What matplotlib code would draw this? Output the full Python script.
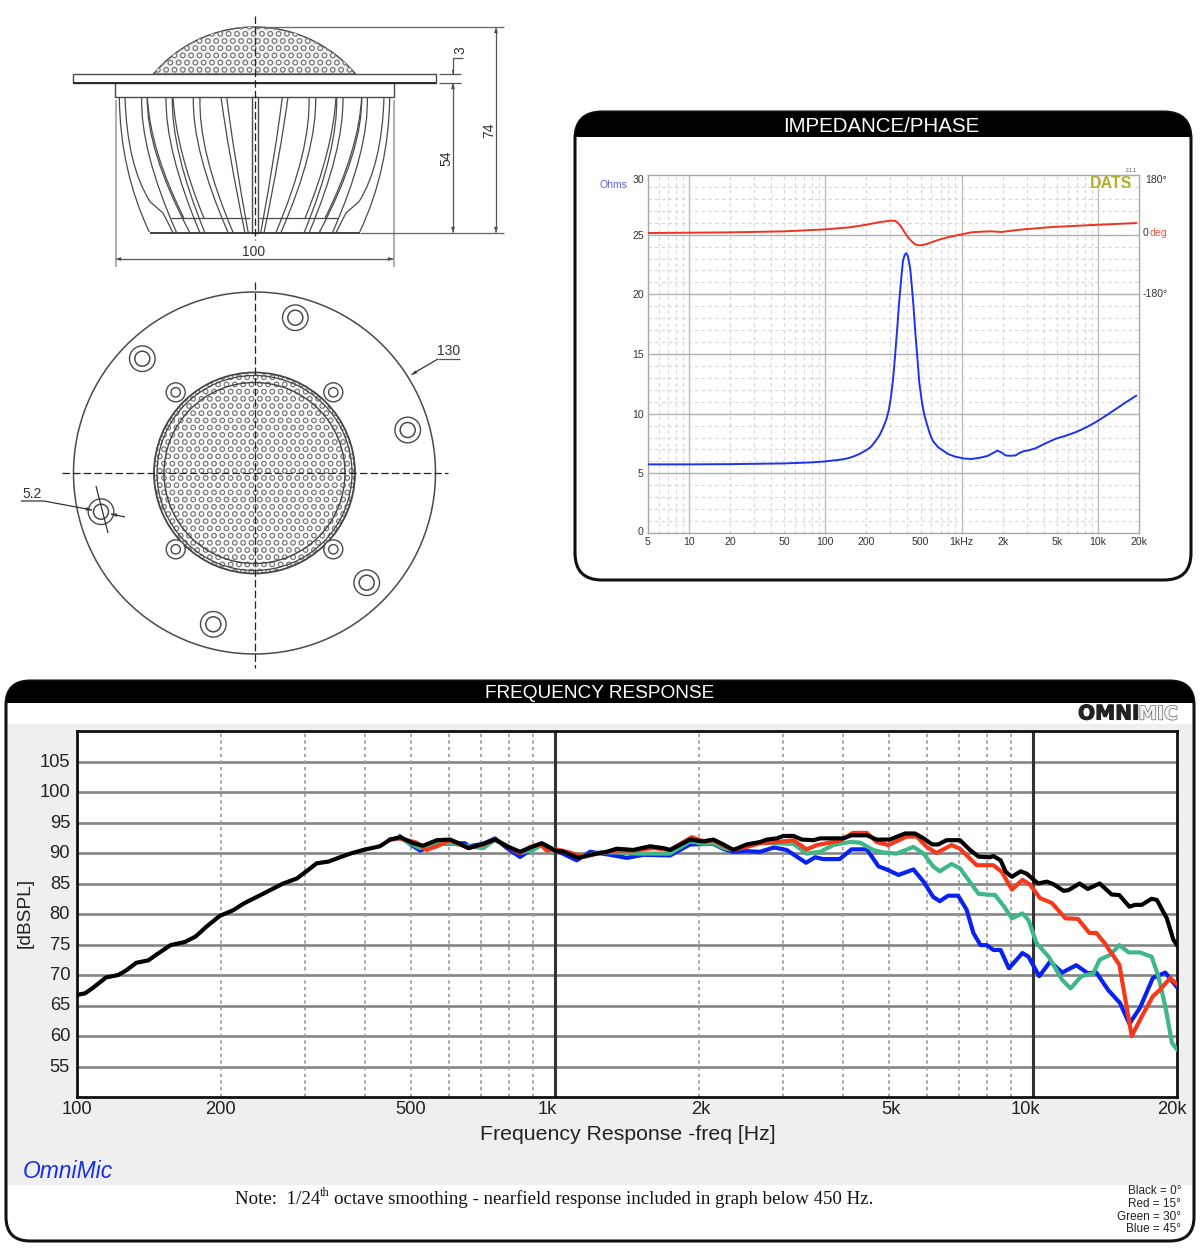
import numpy as np
import matplotlib
matplotlib.use("Agg")
import matplotlib.pyplot as plt
from matplotlib.patches import FancyBboxPatch, Rectangle, Circle, PathPatch, Polygon
from matplotlib.path import Path
from matplotlib.collections import PatchCollection
from matplotlib.ticker import NullLocator
from matplotlib.transforms import ScaledTranslation
import matplotlib.patheffects as pe

plt.rcParams['font.family'] = ['Liberation Sans', 'DejaVu Sans']

# ---------------- frequency response data ----------------
fr_ticks = [100, 200, 500, 1000, 2000, 5000, 10000, 20000]
fr_tick_labels = ['100', '200', '500', '1k', '2k', '5k', '10k', '20k']
fr_db_ticks = [55, 60, 65, 70, 75, 80, 85, 90, 95, 100, 105]
fr_dashed = [200, 300, 400, 500, 600, 700, 800, 900, 2000, 3000, 4000, 5000, 6000, 7000, 8000, 9000]

black_f = [100, 101, 104, 108, 115, 122, 127, 133, 141, 147, 157, 168, 177, 187, 199, 212, 223, 242, 270, 288,
           302, 317, 336, 355, 373, 397, 430, 452, 474, 505, 530, 566, 603, 633, 659, 708, 749, 793, 845, 901,
           938, 1000, 1041, 1119, 1184, 1283, 1346, 1458, 1580, 1685, 1740, 1916, 2043, 2144, 2250, 2360, 2518,
           2685, 2772, 2910, 3005, 3152, 3283, 3470, 3587, 4010, 4170, 4490, 4708, 5010, 5400, 5660, 5900, 6150,
           6330, 6590, 7030, 7380, 7690, 8120, 8260, 8550, 8770, 9030, 9420, 9700, 10240, 10680, 11020, 11580,
           11850, 12510, 13010, 13780, 14600, 15150, 15900, 16350, 16880, 17700, 18150, 19040, 19650, 20000]
black_db = [66.7, 66.8, 67.0, 67.9, 69.6, 70.0, 70.8, 72.0, 72.4, 73.4, 74.9, 75.4, 76.3, 78.0, 79.7, 80.6, 81.7,
            83.1, 85.0, 85.8, 87.0, 88.3, 88.6, 89.3, 89.9, 90.5, 91.1, 92.2, 92.6, 91.6, 91.2, 92.1, 92.2, 91.5,
            90.8, 91.5, 92.2, 91.1, 90.2, 91.1, 91.6, 90.4, 90.2, 89.2, 89.7, 90.2, 90.7, 90.5, 91.1, 90.8, 90.5,
            92.2, 91.9, 92.2, 91.4, 90.5, 91.4, 91.8, 92.2, 92.4, 92.8, 92.8, 92.2, 92.1, 92.4, 92.4, 92.9, 92.9,
            92.2, 92.2, 93.2, 93.2, 92.4, 91.4, 91.4, 92.1, 92.1, 90.5, 89.4, 89.3, 89.5, 88.8, 86.9, 86.1, 87.0,
            86.6, 85.0, 85.3, 84.9, 83.8, 83.9, 85.0, 84.1, 85.0, 83.2, 83.1, 81.2, 81.5, 81.5, 82.5, 82.3, 79.3,
            75.8, 74.9]

red_f = [452, 474, 513, 538, 566, 603, 659, 708, 749, 793, 845, 887, 931, 961, 1000, 1058, 1146, 1242, 1346, 1458,
         1606, 1740, 1932, 2043, 2144, 2250, 2360, 2518, 2685, 2910, 3152, 3360, 3530, 3940, 4200, 4490, 4708,
         4980, 5440, 5710, 5990, 6280, 6750, 7030, 7620, 8260, 8600, 9030, 9500, 9860, 10340, 10950, 11680, 12410,
         13110, 13560, 14120, 15150, 16080, 16880, 17800, 18440, 19350, 20000]
red_db = [92.2, 92.4, 91.7, 90.5, 91.1, 92.1, 90.8, 91.4, 92.2, 91.1, 90.0, 91.0, 91.4, 90.4, 90.65, 90.2, 89.35,
          90.0, 90.4, 90.4, 90.8, 90.5, 92.6, 91.9, 92.1, 91.2, 90.5, 91.0, 91.6, 91.8, 92.1, 90.6, 91.3, 92.0,
          93.3, 93.3, 91.8, 91.3, 92.7, 92.7, 91.0, 90.0, 91.3, 90.7, 88.0, 88.0, 86.9, 84.0, 85.6, 84.8, 82.6,
          81.8, 79.3, 79.2, 76.9, 76.9, 75.2, 71.7, 60.0, 63.2, 66.5, 67.6, 69.5, 68.5]

green_f = [452, 474, 497, 522, 566, 603, 659, 708, 749, 793, 845, 901, 945, 1000, 1075, 1146, 1242, 1346, 1482,
           1606, 1740, 1916, 2043, 2144, 2250, 2360, 2518, 2685, 2870, 3152, 3360, 3587, 3820, 4140, 4345, 4630,
           4860, 5180, 5620, 5900, 6180, 6380, 6750, 7030, 7690, 8330, 8700, 9030, 9500, 9780, 10170, 10780, 11500,
           11980, 12610, 13370, 13780, 14490, 15150, 15850, 16730, 17700, 18280, 18900, 19520, 20000]
green_db = [92.2, 92.4, 91.6, 90.8, 91.5, 91.6, 91.1, 90.8, 92.2, 91.2, 90.0, 90.5, 91.5, 90.5, 90.0, 89.5, 90.1,
            90.1, 89.9, 89.9, 89.9, 91.9, 91.5, 91.6, 90.8, 90.5, 91.2, 91.7, 91.6, 91.5, 89.9, 90.2, 91.3, 91.8,
            91.7, 90.5, 90.1, 89.9, 91.0, 89.9, 87.8, 87.0, 88.2, 87.5, 83.3, 83.1, 81.2, 79.3, 80.1, 79.0, 75.2,
            73.0, 69.2, 67.8, 69.8, 70.3, 72.5, 73.3, 74.9, 73.7, 73.7, 73.0, 69.8, 64.9, 58.9, 57.8]

blue_f = [474, 497, 522, 566, 648, 659, 708, 749, 793, 845, 901, 945, 1000, 1110, 1184, 1304, 1412, 1530, 1740,
          1916, 2144, 2250, 2360, 2518, 2685, 2870, 3050, 3205, 3350, 3500, 3640, 3940, 4170, 4490, 4750, 4940,
          5230, 5620, 5900, 6180, 6380, 6640, 6970, 7260, 7500, 7760, 8000, 8260, 8550, 8900, 9500, 9780, 10300,
          10860, 11500, 12310, 13010, 13560, 14370, 15200, 15900, 16730, 17800, 18900, 20000]
blue_db = [92.7, 91.5, 90.4, 91.5, 91.6, 91.1, 91.5, 92.4, 90.8, 89.35, 90.8, 91.4, 90.5, 88.8, 90.2, 89.7, 89.2,
           89.7, 89.6, 91.4, 91.5, 90.65, 90.2, 90.3, 90.2, 90.9, 90.5, 89.4, 88.4, 89.3, 89.0, 89.0, 90.6, 90.6,
           87.8, 87.3, 86.4, 87.3, 85.3, 82.8, 82.1, 83.0, 83.0, 80.7, 76.9, 74.9, 74.9, 74.1, 74.1, 71.1, 73.6,
           73.0, 69.8, 72.2, 70.4, 71.6, 70.3, 70.4, 67.5, 65.4, 62.0, 64.6, 69.5, 70.4, 68.0]

# ---------------- impedance / phase data ----------------
imp_ticks = [5, 10, 20, 50, 100, 200, 500, 1000, 2000, 5000, 10000, 20000]
imp_tick_labels = ['5', '10', '20', '50', '100', '200', '500', '1kHz', '2k', '5k', '10k', '20k']
imp_major = [10, 100, 1000, 10000]
imp_minor = [6, 7, 8, 9, 20, 30, 40, 50, 60, 70, 80, 90, 200, 300, 400, 500, 600, 700, 800, 900,
             2000, 3000, 4000, 5000, 6000, 7000, 8000, 9000]
ohm_ticks = [0, 5, 10, 15, 20, 25, 30]
ohm_minor = [1, 2, 3, 4, 6, 7, 8, 9, 11, 12, 13, 14, 16, 17, 18, 19, 21, 22, 23, 24, 26, 27, 28, 29]

z_f = [5, 10, 20, 50, 80, 100, 130, 145, 160, 180, 200, 215, 230, 250, 265, 280, 292, 303, 314, 324, 336, 347, 360,
       371, 382, 392, 403, 419, 430, 442, 457, 473, 490, 514, 535, 557, 585, 616, 670, 731, 800, 897, 1030, 1177,
       1350, 1545, 1700, 1828, 1958, 2095, 2290, 2484, 2650, 2845, 3150, 3485, 4100, 4900, 5800, 6870, 8200, 9660,
       11500, 13580, 16000, 19060]
z_ohm = [5.75, 5.75, 5.77, 5.83, 5.92, 6.0, 6.15, 6.25, 6.4, 6.65, 6.95, 7.2, 7.6, 8.2, 8.8, 9.5, 10.3, 11.4, 12.9,
         14.7, 17.0, 19.2, 21.3, 22.8, 23.3, 23.45, 23.2, 22.2, 20.8, 19.2, 16.8, 14.7, 12.5, 10.8, 9.8, 9.1, 8.3,
         7.7, 7.2, 6.9, 6.6, 6.4, 6.25, 6.2, 6.3, 6.45, 6.7, 6.9, 6.75, 6.5, 6.47, 6.5, 6.7, 6.85, 6.95, 7.1, 7.5,
         7.9, 8.15, 8.45, 8.85, 9.3, 9.85, 10.4, 10.95, 11.5]
ph_f = [5, 10, 20, 50, 100, 150, 200, 250, 275, 300, 324, 335, 347, 360, 371, 383, 395, 410, 425, 440, 455, 478, 504,
        530, 557, 620, 684, 790, 897, 1030, 1177, 1400, 1655, 1958, 2322, 2845, 4580, 9040, 19060]
ph_deg = [5, 6, 7, 10, 16, 22, 30, 38, 40, 42, 42, 38, 32, 24, 15, 6, -2, -11, -18, -24, -29, -32, -32, -30, -28,
          -21, -15, -8, -3, 2, 7, 9, 10, 8, 12, 16, 23, 29, 35]

W, H = 1200, 1250
fig = plt.figure(figsize=(12, 12.5), dpi=100, facecolor='white')


def px_axes(x0, y0, x1, y1, **kw):
    return fig.add_axes([x0 / W, 1 - y1 / H, (x1 - x0) / W, (y1 - y0) / H], **kw)


def shift_labels(labels, dxs, dys):
    for lab, dx, dy in zip(labels, dxs, dys):
        lab.set_transform(lab.get_transform() + ScaledTranslation(dx / 100, -dy / 100, fig.dpi_scale_trans))


bg = fig.add_axes([0, 0, 1, 1], zorder=0)
bg.set_xlim(0, W)
bg.set_ylim(H, 0)
bg.axis('off')
INK = '#4a4a4a'


def line(xs, ys, lw=0.9, c=INK, **kw):
    bg.plot(xs, ys, lw=lw, color=c, solid_capstyle='butt', **kw)


def arrow(x, y, dx, dy, s=6, c=INK):
    n = np.hypot(dx, dy)
    ux, uy = dx / n, dy / n
    bg.add_patch(Polygon([(x, y), (x - ux * s - uy * s * .25, y - uy * s + ux * s * .25),
                          (x - ux * s + uy * s * .25, y - uy * s - ux * s * .25)], closed=True, fc=c, ec=c, lw=.3))


def curve(p0, p1, p2, lw=0.9, c=INK):
    bg.add_patch(PathPatch(Path([p0, p1, p2], [Path.MOVETO, Path.CURVE3, Path.CURVE3]), fc='none', ec=c, lw=lw))


def hex_dots(cx, cy, clip_patch, rmax, r=2.3):
    dots = []
    for j, yy in enumerate(np.arange(-rmax, rmax + 1, 7.2)):
        off = 4.17 if j % 2 else 0
        for xx in np.arange(-rmax - 8.33, rmax + 9, 8.33):
            dots.append(Circle((cx + xx + off, cy + yy), r))
    pc = PatchCollection(dots, facecolor='white', edgecolor='#777777', linewidth=0.9)
    bg.add_collection(pc)
    pc.set_clip_path(clip_patch)


# ---------- side view ----------
CX = 254.5
theta = np.radians(np.linspace(180 + 40, 360 - 40, 80))
dome_x = CX + 132 * np.cos(theta)
dome_y = 159 + 132 * np.sin(theta)
dome_patch = Polygon(np.column_stack([dome_x, dome_y]), closed=True, fc='#f2f2f2', ec='#444444', lw=1)
bg.add_patch(dome_patch)
hex_dots(CX, 74, dome_patch, 105)
bg.add_patch(Rectangle((73, 74), 363, 9, fc='white', ec=INK, lw=1))
bg.add_patch(Rectangle((115, 83), 279, 14, fc='white', ec=INK, lw=1))
line([73, 436], [82.7, 82.7], lw=1.3, c='#222222')

ribs = [(141.7, 140, 176.7), (147.3, 146, 190), (166, 165, 200), (172.3, 171, 205), (193.3, 192, 228.3),
        (200, 198, 233.3), (221, 228, 245), (226.7, 233, 248.3)]
extra_ribs = [(147.3, 150, 184), (173, 176, 204)]
for sgn in (-1, 1):
    mx = lambda v: CX + sgn * (CX - v)
    for top, ctrl, bot in ribs:
        curve((mx(top), 97), (mx(ctrl), 150), (mx(bot), 233))
    for top, ctrl, bot in extra_ribs:
        curve((mx(top), 97), (mx(ctrl), 150), (mx(bot), 218.3))
    curve((mx(119.3), 97), (mx(120), 170), (mx(149.3), 232))
    curve((mx(125), 97), (mx(127), 165), (mx(150), 201.7))
    line([mx(150), mx(163), mx(173)], [201.7, 213, 232.7])
    line([mx(171), mx(250)], [218.3, 218.3])
    line([mx(115.5), mx(115.5)], [100, 267], lw=1.1, c='#999999')
bg.add_patch(Rectangle((CX - 3, 97), 6, 136, fc='white', ec=INK, lw=1))
line([150, 360], [232.7, 232.7], lw=1.3, c='#333333')
line([CX, CX], [16, 240], lw=0.9, c='#222222', ls=(0, (6, 2.5)), zorder=5)
# dimensions
line([CX, 504], [27, 27], c='#666666')
line([360, 504], [233, 233], c='#666666')
line([496, 496], [29, 231], c='#555555')
arrow(496, 27, 0, -1)
arrow(496, 233, 0, 1)
bg.text(489, 130, '74', rotation=90, fontsize=10, ha='center', va='center', color='#333333')
line([453, 453], [85, 231], c='#555555')
arrow(453, 83, 0, -1)
arrow(453, 233, 0, 1)
bg.text(446, 158, '54', rotation=90, fontsize=10, ha='center', va='center', color='#333333')
line([439, 461], [74, 74], c='#555555')
line([439, 461], [83, 83], c='#555555')
line([453, 453, 463], [74, 58, 58], c='#555555')
arrow(453, 74, 0, 1, s=4)
arrow(453, 83, 0, -1, s=4)
bg.text(460, 50, '3', rotation=90, fontsize=10, ha='center', va='center', color='#333333')
line([117, 392], [259, 259], c='#555555')
arrow(115, 259, -1, 0)
arrow(394, 259, 1, 0)
bg.text(254, 252, '100', fontsize=10, ha='center', va='center', color='#333333')

# ---------- front view ----------
CY = 473
bg.add_patch(Circle((CX, CY), 181, fc='white', ec=INK, lw=1.1))
grille = Circle((CX, CY), 100.5, fc='white', ec='none')
bg.add_patch(grille)
hex_dots(CX, CY, grille, 103)
for rr, lw in ((100.5, 1.3), (97.5, 0.9), (90.5, 1.0)):
    bg.add_patch(Circle((CX, CY), rr, fc='none', ec='#444444', lw=lw))
for hx, hy in [(295.3, 317.7), (142.3, 358.7), (407.7, 430), (366.7, 582.7), (213.3, 624.3), (101, 511.7)]:
    bg.add_patch(Circle((hx, hy), 12.8, fc='white', ec=INK, lw=1))
    bg.add_patch(Circle((hx, hy), 7.5, fc='white', ec=INK, lw=1.1))
for hx, hy in [(175.7, 392.3), (333.3, 392.3), (175.7, 549.3), (333.3, 549.3)]:
    bg.add_patch(Circle((hx, hy), 9.5, fc='white', ec=INK, lw=1))
    bg.add_patch(Circle((hx, hy), 4.7, fc='white', ec=INK, lw=1))
line([62, 448], [CY, CY], lw=0.9, c='#222222', ls=(0, (6, 2.5)), zorder=5)
line([CX, CX], [282, 668], lw=0.9, c='#222222', ls=(0, (6, 2.5)), zorder=5)
bg.text(449, 351, '130', fontsize=10, ha='center', va='center', color='#333333')
line([438, 460], [359, 359], c='#555555')
line([438, 414], [359, 373], c='#333333')
arrow(411, 375, -24, 14)
bg.text(32, 494, '5.2', fontsize=10, ha='center', va='center', color='#333333')
line([21, 44, 92], [501, 501, 510], c='#333333')
arrow(92, 510, 1, 0.2)
line([96, 108], [486, 533], c='#333333')
line([111, 125], [514, 517], c='#333333')
arrow(111, 514, -1, -0.2)

# ---------- panels ----------
def panel(x0, y0, x1, y1, hdr, rad, title, fs):
    p = FancyBboxPatch((x0, y0), x1 - x0, y1 - y0, boxstyle=f'round,pad=0,rounding_size={rad}',
                       fc='white', ec='#111111', lw=2.2)
    bg.add_patch(p)
    head = Rectangle((x0 - 2, y0 - 2), x1 - x0 + 4, hdr - y0 + 2, fc='black', ec='none')
    bg.add_patch(head)
    head.set_clip_path(p)
    bg.text((x0 + x1) / 2 - 2 * (fs > 14), (y0 + hdr) / 2 + 1.5, title, color='white', fontsize=fs, ha='center', va='center')
    return p


panel(575, 112, 1191, 580, 137, 27, 'IMPEDANCE/PHASE', 14.8)
fr_panel = panel(6, 681, 1194, 1241, 703, 24, 'FREQUENCY RESPONSE', 13.7)
gray = Rectangle((8, 724), 1184, 461, fc='#efefef', ec='none')
bg.add_patch(gray)

# ---------- impedance axes ----------
ax1 = px_axes(648, 175, 1139, 533, zorder=2)
ax1.set_xscale('log')
ax1.set_xlim(5, 20000)
ax1.set_ylim(0, 30)
for v in imp_major:
    ax1.axvline(v, color='#bdbdbd', lw=1.0, zorder=1)
for v in imp_minor:
    ax1.axvline(v, color='#d6d6d6', lw=0.8, ls=(0, (3, 3)), zorder=1)
for v in ohm_minor:
    ax1.axhline(v, color='#d6d6d6', lw=0.8, ls=(0, (3, 3)), zorder=1)
for v in ohm_ticks[1:-1]:
    ax1.axhline(v, color='#b0b0b0', lw=1.0, zorder=1)
ax1.plot(z_f, z_ohm, color='#1c33ee', lw=1.4, zorder=3)
ax1.set_xticks(imp_ticks)
ax1.set_xticklabels(imp_tick_labels, fontsize=7.6, color='#333333')
ax1.xaxis.set_minor_locator(NullLocator())
ax1.set_yticks(ohm_ticks)
ax1.set_yticklabels([str(v) for v in ohm_ticks], fontsize=7.6, color='#333333')
ax1.tick_params(length=0, pad=3)
shift_labels(ax1.get_yticklabels(), [0] * 7, [-2, 0, 0, 0, 0, 0, 4])
for s in ax1.spines.values():
    s.set_color('#a8a8a8')
    s.set_linewidth(1)
ax1b = ax1.twinx()
ax1b.set_ylim(-900, 180)
ax1b.plot(ph_f, ph_deg, color='#ee3322', lw=1.4, zorder=3)
ax1b.set_yticks([])
for s in ax1b.spines.values():
    s.set_visible(False)
bg.text(614, 185, 'Ohms', color='#5566ee', fontsize=7.6, ha='center', va='center')
bg.text(1145, 180, '180°', color='#333333', fontsize=7.6, ha='left', va='center')
bg.text(1143, 233.5, '0', color='#333333', fontsize=7.6, ha='left', va='center')
bg.text(1150, 233.5, 'deg', color='#ee5544', fontsize=7.6, ha='left', va='center')
bg.text(1143, 294, '-180°', color='#333333', fontsize=7.6, ha='left', va='center')
ax1b.text(0.986, 0.975, 'DATS', transform=ax1.transAxes, color='#b2b02c', fontsize=11.5,
          fontweight='bold', ha='right', va='center', zorder=6)
bg.text(1131, 171, '2.1.1', color='#444444', fontsize=3.5, ha='center', va='center')

# ---------- frequency response axes ----------
ax2 = px_axes(77, 731, 1177, 1097, zorder=2)
ax2.set_xscale('log')
ax2.set_xlim(100, 20000)
ax2.set_ylim(50, 110)
for v in fr_db_ticks:
    ax2.axhline(v, color='#858585', lw=1.9, zorder=1)
for v in fr_dashed:
    ax2.axvline(v, color='#9a9a9a', lw=1.2, ls=(0, (2, 2)), zorder=1)
for v in (1000, 10000):
    ax2.axvline(v, color='#333333', lw=2.2, zorder=1.5)
ax2.plot(blue_f, blue_db, color='#0a22f0', lw=3, zorder=3)
ax2.plot(green_f, green_db, color='#3fb788', lw=3, zorder=3.1)
ax2.plot(red_f, red_db, color='#f53a1c', lw=3, zorder=3.2)
ax2.plot(black_f, black_db, color='black', lw=3, zorder=3.3)
ax2.set_xticks(fr_ticks)
ax2.set_xticklabels(fr_tick_labels, fontsize=13.2, color='#222222')
ax2.xaxis.set_minor_locator(NullLocator())
ax2.set_yticks(fr_db_ticks)
ax2.set_yticklabels([str(v) for v in fr_db_ticks], fontsize=13.2, color='#222222')
ax2.tick_params(length=0, pad=5)
ax2.tick_params(axis='x', pad=3)
shift_labels(ax2.get_xticklabels(), [0, 0, 0, -8, 2, 2, -8, -5], [0] * 8)
shift_labels(ax2.get_yticklabels(), [0] * 11, [-1.5] * 11)
for s in ax2.spines.values():
    s.set_color('#111111')
    s.set_linewidth(2)
bg.text(628, 1134, 'Frequency Response -freq [Hz]', fontsize=15.3, color='#222222', ha='center', va='center')
bg.text(25, 913, '[dBSPL]', fontsize=13.8, color='#222222', rotation=90, ha='center', va='center')
bg.text(23, 1171, 'OmniMic', fontsize=16.5, color='#1530e8', style='italic', ha='left', va='center')

SERIF = ['Liberation Serif', 'DejaVu Serif']
bg.text(235, 1199, 'Note:  1/24', family=SERIF, fontsize=13.6, color='#111111', ha='left', va='center')
bg.text(320, 1193, 'th', family=SERIF, fontsize=9, color='#111111', ha='left', va='center')
bg.text(334, 1199, 'octave smoothing - nearfield response included in graph below 450 Hz.', family=SERIF,
        fontsize=13.6, color='#111111', ha='left', va='center')
for yy, txt in zip((1191, 1204, 1217, 1229), ('Black = 0°', 'Red = 15°', 'Green = 30°', 'Blue = 45°')):
    bg.text(1181, yy, txt, fontsize=8.5, color='#222222', ha='right', va='center')

bg.text(1078, 714, 'OMNI', fontsize=14.5, fontweight='bold', family=['DejaVu Sans'], color='#222222', ha='left', va='center',
        path_effects=[pe.withStroke(linewidth=0.8, foreground='#222222')])
bg.text(1178, 714, 'MIC', fontsize=13.5, fontweight='bold', family=['DejaVu Sans'], color='#f4f4f4', ha='right', va='center',
        path_effects=[pe.withStroke(linewidth=1.0, foreground='#666666')])

fig.savefig('out.png', dpi=100, facecolor='white')
